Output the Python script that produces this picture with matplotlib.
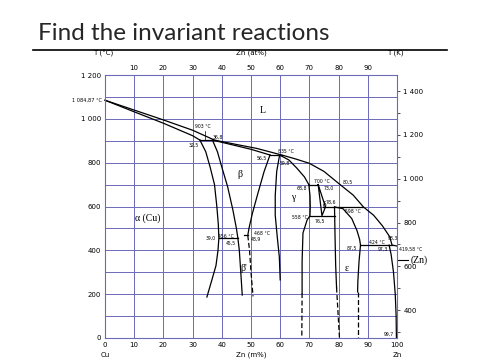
import matplotlib
matplotlib.use("Agg")
import matplotlib.pyplot as plt
from matplotlib.ticker import MultipleLocator, FixedLocator, FuncFormatter
from matplotlib.lines import Line2D

# phase boundaries, wt% Zn vs T (deg C)
liq_x = [0, 10, 20, 30, 37.5, 45, 52, 60.5, 65, 70, 75, 80.5, 85, 88.5, 92, 95, 97.5, 98.3, 100]
liq_t = [1084.87, 1040, 995, 948, 903, 883, 865, 835, 818, 797, 760, 700, 652, 598, 560, 512, 462, 424, 419.58]

sol_a_x = [0, 10, 20, 30, 32.5]
sol_a_t = [1084.87, 1032, 980, 923, 903]

sol_b_x = [36.8, 45, 50, 56.5]
sol_b_t = [903, 877, 861, 835]

alpha_x = [32.5, 34.5, 36, 37.5, 38.3, 38.8, 39.0, 38.7, 38.0, 36.6, 34.9]
alpha_t = [903, 850, 780, 700, 600, 520, 456, 400, 330, 265, 187]

beta_l_x = [36.8, 38.5, 40, 42, 43.8, 45, 45.5]
beta_l_t = [903, 850, 780, 690, 584, 500, 456]

betap_l_x = [45.5, 46, 46.5, 47]
betap_l_t = [456, 400, 300, 196]

betap_r_x = [48.9, 49.5, 50, 50.7]
betap_r_t = [468, 400, 300, 190]

beta_r_x = [56.5, 54.5, 52.4, 50.5, 49.3, 48.9]
beta_r_t = [835, 760, 662, 570, 500, 468]

gam_l_x = [59.8, 58.8, 58.3, 58.3, 59.0, 59.7, 60.0]
gam_l_t = [835, 760, 650, 560, 460, 370, 265]

gam_s_x = [59.8, 63, 65.7, 68.3, 69.8]
gam_s_t = [835, 812, 775, 735, 700]

gam_r_x = [69.8, 70.2, 70.3, 70.2, 69.2, 67.8, 67.5, 67.5]
gam_r_t = [700, 650, 600, 558, 538, 479, 350, 205]
gam_r_dash_x = [67.5, 67.4]
gam_r_dash_t = [205, 0]

delta_x = [73, 74.3, 75.5, 73]
delta_t = [700, 558, 598, 700]

eps_l_x = [78.6, 78.8, 79.0, 79.3]
eps_l_t = [598, 450, 330, 230]
eps_l_dash_x = [79.3, 80.3]
eps_l_dash_t = [230, 0]

eps_s_x = [78.6, 81.5, 84.5, 86.3, 87.2, 87.5]
eps_s_t = [598, 590, 545, 490, 450, 424]

eps_r_x = [87.5, 87.0, 86.6, 86.5]
eps_r_t = [424, 350, 260, 210]
eps_r_dash_x = [86.5, 86.5]
eps_r_dash_t = [210, 0]

eta_x = [97.3, 98.0, 98.8, 99.4, 99.7, 99.8]
eta_t = [424, 380, 300, 200, 100, 0]

# invariant lines: (x start, x end, T)
invariants = [(32.5, 37.5, 903), (56.5, 60.5, 835), (69.8, 73.0, 700),
              (74.7, 88.5, 598), (70.2, 78.6, 558), (39.0, 45.5, 456),
              (47.6, 48.9, 468), (87.5, 98.3, 424)]

# small number labels: (text, x, T)
notes = [("903 °C", 33.6, 963), ("36,8", 38.6, 917), ("32,5", 30.3, 880),
         ("835 °C", 61.8, 853), ("56,5", 53.8, 821), ("59,8", 61.5, 798),
         ("68,8", 67.3, 684), ("700 °C", 74.2, 712), ("73,0", 76.6, 684),
         ("80,5", 83.0, 712), ("78,6", 77.2, 620), ("598 °C", 85.0, 575),
         ("558 °C", 66.6, 552), ("76,5", 73.6, 534), ("39,0", 36.2, 456),
         ("456 °C", 41.4, 465), ("45,5", 43.2, 433), ("468 °C", 53.8, 479),
         ("48,9", 51.7, 452), ("87,5", 84.6, 411), ("424 °C", 93.2, 438),
         ("97,3", 95.0, 406), ("98,3", 98.6, 456), ("419,58 °C", 104.6, 406),
         ("99,7", 97.2, 18)]

phases = [("L", 54.1, 1040), ("β", 46.2, 748), ("γ", 64.4, 643), ("δ", 75.2, 609),
          ("ε", 82.9, 319), ("α (Cu)", 14.7, 547), ("β'", 47.6, 319)]

x_ticks = [0, 10, 20, 30, 40, 50, 60, 70, 80, 90, 100]
top_ticks = [10, 20, 30, 40, 50, 60, 70, 80, 90]
t_ticks = [0, 200, 400, 600, 800, 1000, 1200]
k_ticks = [400, 600, 800, 1000, 1200, 1400]

grid_c = "#6a6ab8"
serif = ["Liberation Serif", "DejaVu Serif"]

fig = plt.figure(figsize=(4.8, 3.6), dpi=100)
ax = fig.add_axes([105/480, 22/360, 292/480, 263/360])
ax.set_xlim(0, 100)
ax.set_ylim(0, 1200)

for v in range(10, 100, 10):
    ax.axvline(v, color=grid_c, lw=0.7, zorder=0)
for v in range(100, 1200, 100):
    ax.axhline(v, color=grid_c, lw=0.7, zorder=0)
for s in ax.spines.values():
    s.set_color(grid_c)
    s.set_linewidth(0.8)

lw = 0.9
solid = [(liq_x, liq_t), (sol_a_x, sol_a_t), (sol_b_x, sol_b_t), (alpha_x, alpha_t),
         (beta_l_x, beta_l_t), (betap_l_x, betap_l_t), (beta_r_x, beta_r_t),
         (gam_l_x, gam_l_t), (gam_s_x, gam_s_t), (gam_r_x, gam_r_t),
         (delta_x, delta_t), (eps_l_x, eps_l_t), (eps_s_x, eps_s_t),
         (eps_r_x, eps_r_t), (eta_x, eta_t)]
for xs, ts in solid:
    ax.plot(xs, ts, color="black", lw=lw, clip_on=False)
dashed = [(betap_r_x, betap_r_t), (gam_r_dash_x, gam_r_dash_t),
          (eps_l_dash_x, eps_l_dash_t), (eps_r_dash_x, eps_r_dash_t)]
for xs, ts in dashed:
    ax.plot(xs, ts, color="black", lw=lw, ls=(0, (4, 2)))
for x0, x1, t in invariants:
    ax.plot([x0, x1], [t, t], color="black", lw=lw)
# little markers from labels to the points
ax.plot([34.3, 34.3], [903, 945], color="black", lw=0.5)
ax.plot([100, 103.8], [356, 356], color="black", lw=0.8, clip_on=False)

for txt, x, t in notes:
    ax.text(x, t, txt, fontsize=3.3, ha="center", va="center", clip_on=False)
ax.text(-1.2, 1084.87, "1 084,87 °C", fontsize=3.6, ha="right", va="center")
for txt, x, t in phases:
    fs = 5.5 if txt == "δ" else 7
    ax.text(x, t, txt, fontsize=fs, ha="center", va="center", family=serif)
ax.text(104.8, 356, "(Zn)", fontsize=7, ha="left", va="center", family=serif)

# axes ticks
sp = FuncFormatter(lambda v, p: f"{int(round(v)):,}".replace(",", " "))
ax.set_xticks(x_ticks)
ax.set_yticks(t_ticks)
ax.yaxis.set_major_formatter(sp)
ax.tick_params(length=0, labelsize=5, pad=3)

top = ax.secondary_xaxis("top")
top.set_xticks(top_ticks)
top.tick_params(length=0, labelsize=5, pad=3)
top.spines["top"].set_visible(False)

right = ax.secondary_yaxis("right", functions=(lambda c: c + 273.15, lambda k: k - 273.15))
right.yaxis.set_major_locator(FixedLocator(k_ticks))
right.yaxis.set_minor_locator(MultipleLocator(100))
right.yaxis.set_major_formatter(sp)
right.tick_params(which="both", length=2.5, width=0.6, color="#333333", labelsize=5, pad=2)
right.spines["right"].set_visible(False)

# axis captions
ax.text(-0.5, 1300, "T (°C)", fontsize=5, ha="center", va="center", clip_on=False)
ax.text(50, 1300, "Zn (at%)", fontsize=5, ha="center", va="center", clip_on=False)
ax.text(99.3, 1300, "T (K)", fontsize=5, ha="center", va="center", clip_on=False)
ax.text(0, -78, "Cu", fontsize=5, ha="center", va="center", clip_on=False)
ax.text(50, -78, "Zn (m%)", fontsize=5, ha="center", va="center", clip_on=False)
ax.text(100, -78, "Zn", fontsize=5, ha="center", va="center", clip_on=False)

# slide title and rule
fig.text(38/480, 1 - 33/360, "Find the invariant reactions", fontsize=17.5,
         family=["Lato", "DejaVu Sans"], color="#262626",
         ha="left", va="center")
fig.add_artist(Line2D([33/480, 447/480], [1 - 50/360, 1 - 50/360],
                      color="black", lw=1.2, transform=fig.transFigure))

fig.savefig("out.png", dpi=100)
